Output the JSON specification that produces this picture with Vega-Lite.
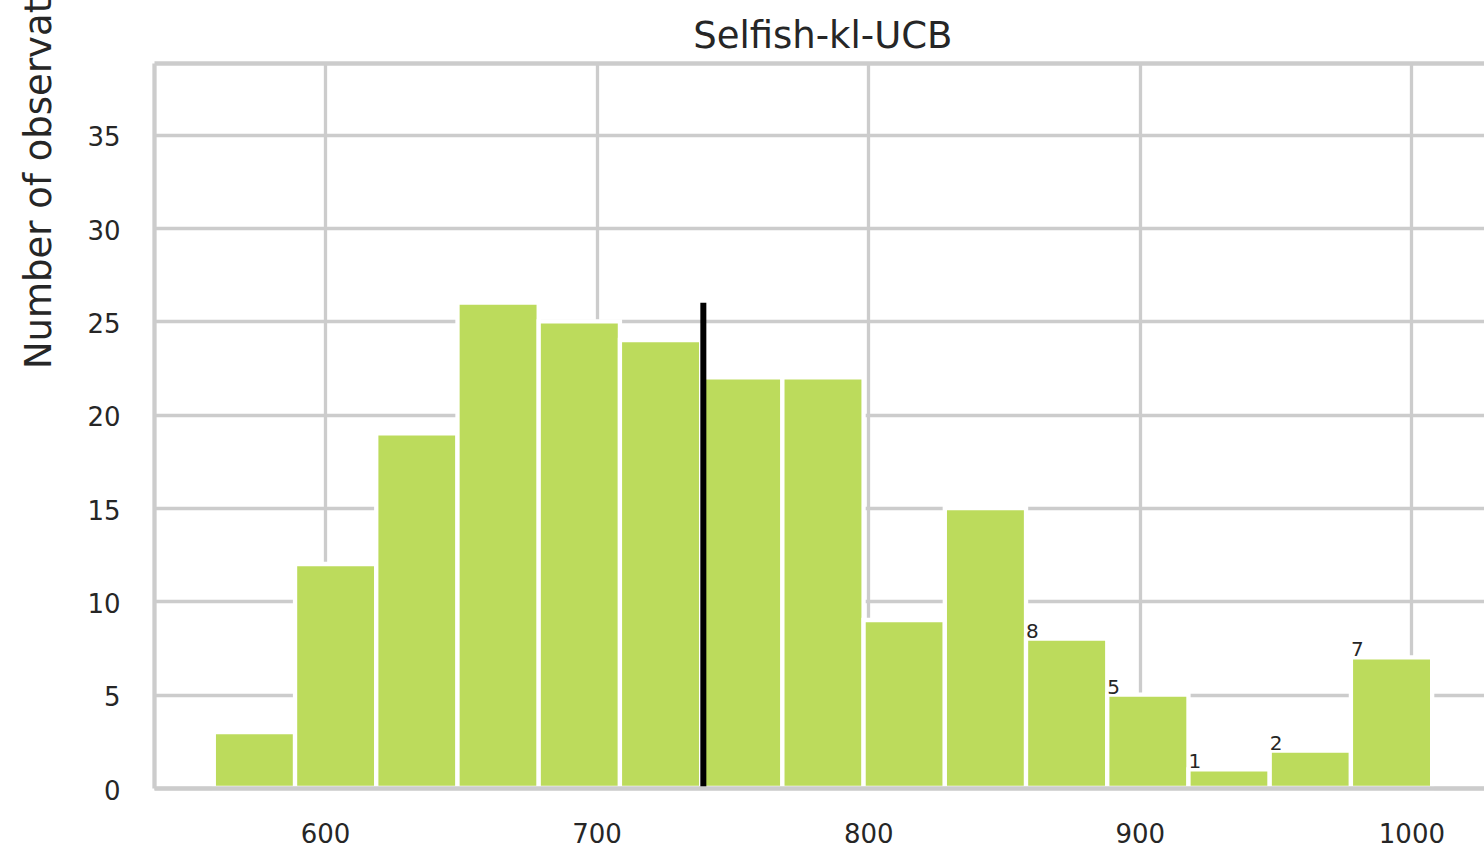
{
  "$schema": "https://vega.github.io/schema/vega-lite/v6.json",
  "autosize": {"type": "none"},
  "padding": {"left": 154, "top": 63, "right": 0, "bottom": 63},
  "width": 1330,
  "height": 725,
  "background": "white",
  "config": {
    "view": {"stroke": null},
    "font": "DejaVu Sans"
  },
  "datasets": {
    "bins": [
      {"bin_start": 559.06, "bin_end": 588.97, "count": 3, "labeled": false},
      {"bin_start": 588.97, "bin_end": 618.87, "count": 12, "labeled": false},
      {"bin_start": 618.87, "bin_end": 648.78, "count": 19, "labeled": false},
      {"bin_start": 648.78, "bin_end": 678.68, "count": 26, "labeled": false},
      {"bin_start": 678.68, "bin_end": 708.59, "count": 25, "labeled": false},
      {"bin_start": 708.59, "bin_end": 738.49, "count": 24, "labeled": false},
      {"bin_start": 738.49, "bin_end": 768.40, "count": 22, "labeled": false},
      {"bin_start": 768.40, "bin_end": 798.30, "count": 22, "labeled": false},
      {"bin_start": 798.30, "bin_end": 828.21, "count": 9, "labeled": false},
      {"bin_start": 828.21, "bin_end": 858.11, "count": 15, "labeled": false},
      {"bin_start": 858.11, "bin_end": 888.02, "count": 8, "labeled": true},
      {"bin_start": 888.02, "bin_end": 917.92, "count": 5, "labeled": true},
      {"bin_start": 917.92, "bin_end": 947.83, "count": 1, "labeled": true},
      {"bin_start": 947.83, "bin_end": 977.73, "count": 2, "labeled": true},
      {"bin_start": 977.73, "bin_end": 1007.64, "count": 7, "labeled": true}
    ],
    "mean": [
      {"mean": 739.3, "ymin": 0, "ymax": 26}
    ]
  },
  "resolve": {"axis": {"x": "independent"}},
  "layer": [
    {
      "data": {"name": "bins"},
      "mark": {"type": "rect", "fill": "#bcdb5c", "stroke": "white", "strokeWidth": 4.3},
      "encoding": {
        "x": {
          "field": "bin_start",
          "type": "quantitative",
          "scale": {"domain": [537.04, 1026.73], "nice": false, "zero": false},
          "axis": {
            "orient": "bottom",
            "title": null,
            "zindex": 1,
            "values": [600, 700, 800, 900, 1000],
            "format": "d",
            "grid": false,
            "ticks": false,
            "tickSize": 0,
            "domain": true,
            "domainColor": "#cccccc",
            "domainWidth": 4.3,
            "labelFont": "DejaVu Sans",
            "labelFontSize": 26,
            "labelColor": "#262626",
            "labelBaseline": "alphabetic",
            "labelPadding": 54,
            "labelFlush": false,
            "labelOverlap": false
          }
        },
        "x2": {"field": "bin_end"},
        "y": {
          "field": "count",
          "type": "quantitative",
          "scale": {"domain": [0, 38.84], "nice": false, "zero": true},
          "axis": {
            "title": "Number of observations",
            "titleFont": "DejaVu Sans",
            "titleFontSize": 37,
            "titleFontWeight": "normal",
            "titleColor": "#262626",
            "titleAngle": 270,
            "titleAlign": "left",
            "titleBaseline": "alphabetic",
            "titleX": -104,
            "titleY": 305.6,
            "values": [0, 5, 10, 15, 20, 25, 30, 35],
            "grid": true,
            "gridColor": "#cccccc",
            "gridWidth": 3.3,
            "ticks": false,
            "tickSize": 0,
            "domain": true,
            "domainColor": "#cccccc",
            "domainWidth": 4.3,
            "labelFont": "DejaVu Sans",
            "labelFontSize": 26,
            "labelColor": "#262626",
            "labelBaseline": "alphabetic",
            "labelOffset": 11,
            "labelPadding": 34,
            "labelFlush": false,
            "labelOverlap": false
          }
        },
        "y2": {"datum": 0}
      }
    },
    {
      "data": {"name": "bins"},
      "transform": [{"filter": "datum.labeled"}],
      "mark": {"type": "text", "align": "left", "baseline": "alphabetic", "dy": -1, "fontSize": 20, "font": "DejaVu Sans", "color": "#262626"},
      "encoding": {
        "x": {
          "field": "bin_start",
          "type": "quantitative",
          "axis": {
            "orient": "top",
            "title": "Selfish-kl-UCB",
            "titleFont": "DejaVu Sans",
            "titleFontSize": 37,
            "titleFontWeight": "normal",
            "titleColor": "#262626",
            "titleAlign": "center",
            "titleBaseline": "alphabetic",
            "titleAngle": 0,
            "titleX": 668.3,
            "titleY": -15.7,
            "zindex": 0,
            "values": [600, 700, 800, 900, 1000],
            "labels": false,
            "ticks": false,
            "tickSize": 0,
            "grid": true,
            "gridColor": "#cccccc",
            "gridWidth": 3.3,
            "domain": true,
            "domainColor": "#cccccc",
            "domainWidth": 4.3
          }
        },
        "y": {"field": "count", "type": "quantitative"},
        "text": {"field": "count", "type": "quantitative"}
      }
    },
    {
      "data": {"name": "mean"},
      "mark": {"type": "rule", "color": "black", "strokeWidth": 6},
      "encoding": {
        "x": {"field": "mean", "type": "quantitative", "axis": null},
        "y": {"field": "ymin", "type": "quantitative"},
        "y2": {"field": "ymax"}
      }
    }
  ]
}
